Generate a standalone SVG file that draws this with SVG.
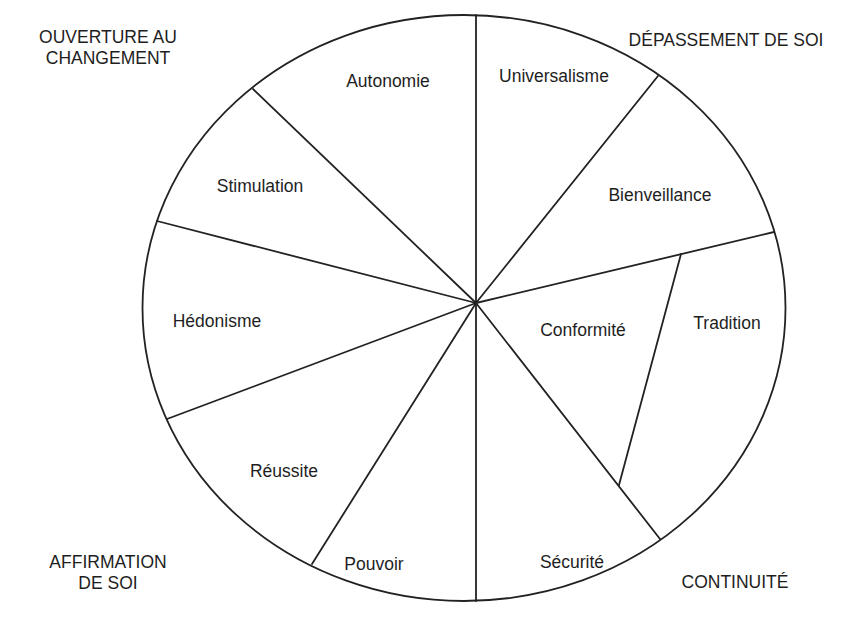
<svg xmlns="http://www.w3.org/2000/svg" width="846" height="622" viewBox="0 0 846 622">
<style>
.ln{stroke:#222;stroke-width:1.8;fill:none;stroke-linecap:round}
.lbl{font-family:"Liberation Sans",Arial,sans-serif;font-size:17.5px;fill:#1e1e1e;text-anchor:middle}
.cap{font-family:"Liberation Sans",Arial,sans-serif;font-size:17.5px;fill:#1e1e1e;text-anchor:middle}
</style>
<rect width="846" height="622" fill="#fff"/>
<g id="circle">
<ellipse class="ln" cx="464" cy="308" rx="321.5" ry="293"/>
</g>
<g id="connectors">
<line class="ln" x1="476" y1="303" x2="476" y2="15"/>
<line class="ln" x1="476" y1="303" x2="476" y2="601"/>
<line class="ln" x1="476" y1="303" x2="253" y2="89"/>
<line class="ln" x1="476" y1="303" x2="157" y2="221"/>
<line class="ln" x1="476" y1="303" x2="167" y2="419"/>
<line class="ln" x1="476" y1="303" x2="312" y2="564"/>
<line class="ln" x1="476" y1="303" x2="658" y2="76"/>
<line class="ln" x1="476" y1="303" x2="774" y2="232"/>
<line class="ln" x1="476" y1="303" x2="660" y2="539"/>
<line class="ln" x1="681" y1="254" x2="619" y2="485"/>
</g>
<g id="autonomie"><text class="lbl" x="388" y="87">Autonomie</text></g>
<g id="universalisme"><text class="lbl" x="554" y="82">Universalisme</text></g>
<g id="stimulation"><text class="lbl" x="260" y="192">Stimulation</text></g>
<g id="bienveillance"><text class="lbl" x="660" y="201">Bienveillance</text></g>
<g id="hedonisme"><text class="lbl" x="217" y="327">Hédonisme</text></g>
<g id="conformite"><text class="lbl" x="583" y="336">Conformité</text></g>
<g id="tradition"><text class="lbl" x="727" y="329">Tradition</text></g>
<g id="reussite"><text class="lbl" x="284" y="477">Réussite</text></g>
<g id="pouvoir"><text class="lbl" x="374" y="570">Pouvoir</text></g>
<g id="securite"><text class="lbl" x="572" y="568">Sécurité</text></g>
<g id="ouverture"><text class="cap" x="108" y="43">OUVERTURE AU</text><text class="cap" x="108" y="64">CHANGEMENT</text></g>
<g id="depassement"><text class="cap" x="726" y="46">DÉPASSEMENT DE SOI</text></g>
<g id="affirmation"><text class="cap" x="108" y="568">AFFIRMATION</text><text class="cap" x="108" y="589">DE SOI</text></g>
<g id="continuite"><text class="cap" x="735" y="588">CONTINUITÉ</text></g>
</svg>
